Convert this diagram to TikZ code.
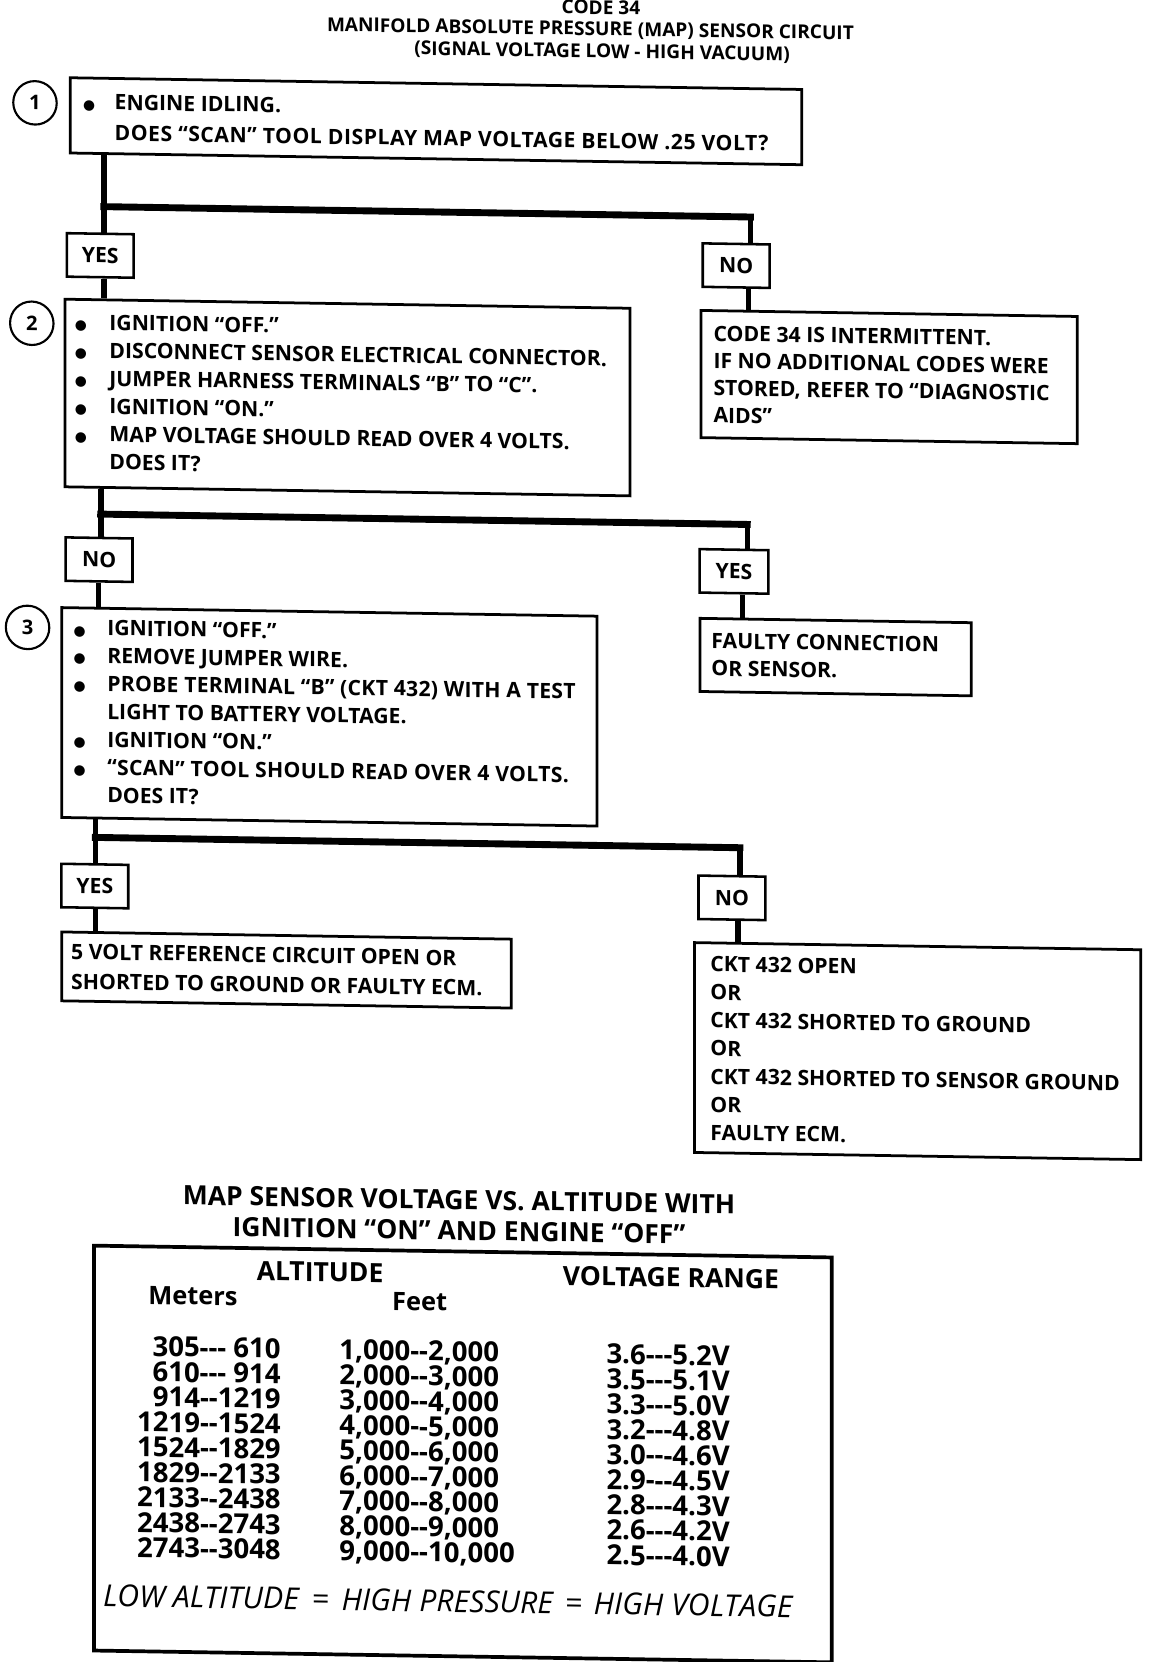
\documentclass[tikz,border=0pt]{standalone}
\usepackage{fontspec}
\newfontfamily\os{Open Sans}
\newfontfamily\dv{DejaVu Sans}
\usetikzlibrary{calc}
\newcommand\bdot{{\dv\fontsize{13}{13}\selectfont ●}}
\newcommand\bul[1]{\llap{\makebox[0pt][c]{\bdot}\hspace{#1pt}}}
\newcommand\wide[1]{{\addfontfeature{LetterSpace=#1}}}
\begin{document}
\begin{tikzpicture}[x=1pt,y=-1pt,
  box/.style={draw, line width=2.6pt, anchor=north west, inner sep=0pt, rectangle},
  lab/.style={draw, line width=2.4pt, minimum width=63pt, minimum height=41pt, inner sep=0pt, font=\os\bfseries\fontsize{20}{20}\selectfont},
  num/.style={circle, draw, line width=2pt, minimum size=41pt, inner sep=0pt, font=\os\bfseries\fontsize{19}{19}\selectfont},
  txt/.style={anchor=base west, align=left, inner sep=0pt, font=\os\bfseries\fontsize{20}{26.3}\selectfont},
  ttl/.style={anchor=base, inner sep=0pt, font=\os\bfseries\fontsize{18}{18}\selectfont},
  conn/.style={line width=5pt},
  bar/.style={line width=6.5pt, line cap=rect}]
\useasboundingbox (0,0) rectangle (1087,1568);
\fill[white] (0,0) rectangle (1087,1568);
\begin{scope}[yslant=-0.016, every node/.append style={transform shape}]
% titles
\node[ttl] (t1) at (567,4.5) {CODE 34};
\node[ttl] (t2) at (557,24.5) {MANIFOLD ABSOLUTE PRESSURE (MAP) SENSOR CIRCUIT};
\node[ttl] (t3) at (568,45.5) {(SIGNAL VOLTAGE LOW - HIGH VACUUM)};
% step circles
\node[num] (c1) at (33,96.5) {1};
\node[num] (c2) at (30,304.5) {2};
\node[num] (c3) at (26,591.5) {3};
% boxes
\node[box, minimum width=690pt, minimum height=71pt] (b1) at (65,71) {};
\node[box, minimum width=533pt, minimum height=177pt] (b2) at (60,280) {};
\node[box, minimum width=505pt, minimum height=198pt] (b3) at (57,571) {};
\node[box, minimum width=355pt, minimum height=120pt] (r1) at (660,281) {};
\node[box, minimum width=256pt, minimum height=69pt] (r2) at (659,571.5) {};
\node[box, minimum width=424pt, minimum height=65pt] (r3) at (57,877) {};
\node[box, minimum width=421pt, minimum height=198pt] (r4) at (654,877.5) {};
% texts (anchor = baseline of the last line)
\node[txt, font=\os\bfseries\fontsize{20}{29}\selectfont] (b1t) at (108,131) {\bul{24}ENGINE IDLING.\\{\addfontfeature{LetterSpace=2.4}DOES “SCAN” TOOL DISPLAY MAP VOLTAGE BELOW .25 VOLT?}};
\node[txt] (b2t) at (103,441.5) {\bul{27}IGNITION “OFF.”\\
\bul{27}DISCONNECT SENSOR ELECTRICAL CONNECTOR.\\
\bul{27}JUMPER HARNESS TERMINALS “B” TO “C”.\\
\bul{27}IGNITION “ON.”\\
\bul{27}MAP VOLTAGE SHOULD READ OVER 4 VOLTS.\\
DOES IT?};
\node[txt] (b3t) at (101,755.8) {\bul{26}IGNITION “OFF.”\\
\bul{26}REMOVE JUMPER WIRE.\\
\bul{26}{\addfontfeature{LetterSpace=1.2}PROBE TERMINAL “B” (CKT 432) WITH A TEST}\\
LIGHT TO BATTERY VOLTAGE.\\
\bul{26}IGNITION “ON.”\\
\bul{26}{\addfontfeature{LetterSpace=1.6}“SCAN” TOOL SHOULD READ OVER 4 VOLTS.}\\
DOES IT?};
\node[txt, font=\os\bfseries\fontsize{20}{25.7}\selectfont] (r1t) at (673,388.1) {CODE 34 IS INTERMITTENT.\\IF NO ADDITIONAL CODES WERE\\STORED, REFER TO “DIAGNOSTIC\\AIDS”};
\node[txt, font=\os\bfseries\fontsize{20}{26}\selectfont] (r2t) at (671,627) {FAULTY CONNECTION\\OR SENSOR.};
\node[txt, font=\os\bfseries\fontsize{20}{28}\selectfont] (r3t) at (67,932) {5 VOLT REFERENCE CIRCUIT OPEN OR\\SHORTED TO GROUND OR FAULTY ECM.};
\node[txt, font=\os\bfseries\fontsize{20}{26.5}\selectfont] (r4t) at (670,1065) {CKT 432 OPEN\\OR\\CKT 432 SHORTED TO GROUND\\OR\\CKT 432 SHORTED TO SENSOR GROUND\\OR\\FAULTY ECM.};
% labels
\node[lab] (yes1) at (94.5,239.5) {YES};
\node[lab] (no1) at (694.5,239.5) {NO};
\node[lab] (no2) at (93.5,526.5) {NO};
\node[lab, minimum width=65pt] (yes2) at (692.5,528) {YES};
\node[lab] (yes3) at (89.5,834.5) {YES};
\node[lab] (no3) at (690.5,836) {NO};
% junctions
\coordinate (j1) at (98,193.4);  \coordinate (j1r) at (708,193.4);
\coordinate (j2) at (95,483.5);  \coordinate (j2r) at (705,483.5);
\coordinate (j3) at (90,788.6);  \coordinate (j3r) at (698,788.6);
% connectors group 1
\coordinate (p1) at ($(b1.south west)!0.0478!(b1.south east)$);
\draw[conn] (p1) -- (yes1.north -| p1);
\draw[bar] (j1) -- (j1r);
\draw[conn] (j1r) -- (no1.north -| j1r);
\coordinate (p2) at ($(b2.north west)!0.0713!(b2.north east)$);
\draw[conn] (yes1.south -| p2) -- (p2);
\coordinate (p3) at ($(r1.north west)!0.1296!(r1.north east)$);
\draw[conn] (no1.south -| p3) -- (p3);
% group 2
\coordinate (p4) at ($(b2.south west)!0.0657!(b2.south east)$);
\draw[conn] (p4) -- (no2.north -| p4);
\draw[bar] (j2) -- (j2r);
\draw[conn] (j2r) -- (yes2.north -| j2r);
\coordinate (p5) at ($(b3.north west)!0.0713!(b3.north east)$);
\draw[conn] (no2.south -| p5) -- (p5);
\coordinate (p6) at ($(r2.north west)!0.1602!(r2.north east)$);
\draw[conn] (yes2.south -| p6) -- (p6);
% group 3
\coordinate (p7) at ($(b3.south west)!0.0653!(b3.south east)$);
\draw[conn] (p7) -- (yes3.north -| p7);
\draw[bar] (j3) -- (j3r);
\draw[conn] (j3r) -- (no3.north -| j3r);
\coordinate (p8) at ($(r3.north west)!0.0778!(r3.north east)$);
\draw[conn] (yes3.south -| p8) -- (p8);
\coordinate (p9) at ($(r4.north west)!0.0998!(r4.north east)$);
\draw[conn] (no3.south -| p9) -- (p9);
% table
\node[ttl, font=\os\bfseries\fontsize{25}{25}\selectfont] (tt1) at (433,1134) {MAP SENSOR VOLTAGE VS. ALTITUDE WITH};
\node[ttl, font=\os\bfseries\fontsize{25}{25}\selectfont] (tt2) at (433,1163) {IGNITION “ON” AND ENGINE “OFF”};
\node[box, line width=3.5pt, minimum width=696pt, minimum height=382pt] (tb) at (87,1172) {};
\node[ttl, font=\os\bfseries\fontsize{25}{25}\selectfont] (h1) at (302,1204) {ALTITUDE};
\node[ttl, font=\os\bfseries\fontsize{25}{25}\selectfont] (h2) at (633,1204) {VOLTAGE RANGE};
\node[ttl, font=\os\bfseries\fontsize{24}{24}\selectfont] (h3) at (182,1228) {Meters};
\node[ttl, font=\os\bfseries\fontsize{24}{24}\selectfont] (h4) at (396,1230) {Feet};
\node[anchor=base east, align=right, inner sep=0pt, font=\os\bfseries\fontsize{26}{23.7}\selectfont] (cm) at (265,1467) {305--- 610\\610--- 914\\914--1219\\1219--1524\\1524--1829\\1829--2133\\2133--2438\\2438--2743\\2743--3048};
\node[anchor=base west, align=left, inner sep=0pt, font=\os\bfseries\fontsize{26}{23.7}\selectfont] (cf) at (320,1467) {1,000--2,000\\2,000--3,000\\3,000--4,000\\4,000--5,000\\5,000--6,000\\6,000--7,000\\7,000--8,000\\8,000--9,000\\9,000--10,000};
\node[anchor=base west, align=left, inner sep=0pt, font=\os\bfseries\fontsize{26}{23.7}\selectfont] (cv) at (572,1467) {3.6---5.2V\\3.5---5.1V\\3.3---5.0V\\3.2---4.8V\\3.0---4.6V\\2.9---4.5V\\2.8---4.3V\\2.6---4.2V\\2.5---4.0V};
\node[anchor=base west, inner sep=0pt, font=\os\itshape\fontsize{28.5}{28.5}\selectfont] (note) at (97,1514) {LOW ALTITUDE\hspace{12pt}=\hspace{12pt}HIGH PRESSURE\hspace{11pt}=\hspace{11pt}HIGH VOLTAGE};
\end{scope}
\end{tikzpicture}
\end{document}
